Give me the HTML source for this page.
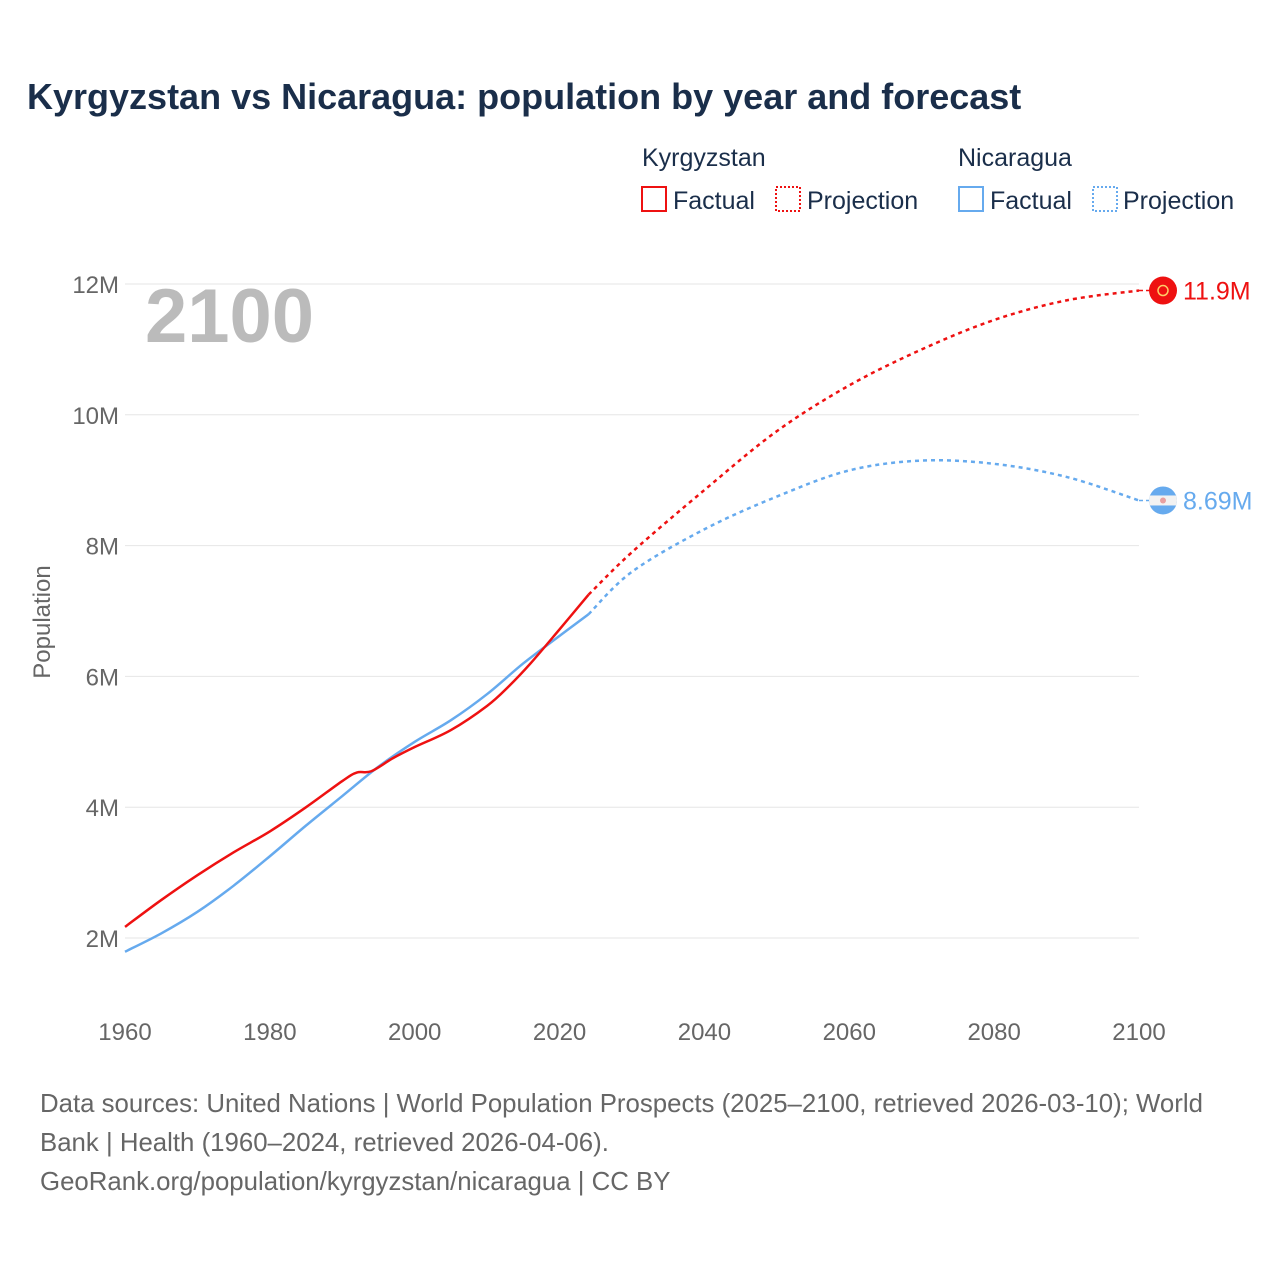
<!DOCTYPE html>
<html><head><meta charset="utf-8"><style>
body{margin:0;background:#fff;font-family:"Liberation Sans",sans-serif}
svg text{font-family:"Liberation Sans",sans-serif}
</style></head><body>
<svg id="chart" width="1280" height="1280" viewBox="0 0 1280 1280">
<text x="27" y="109" font-size="36" font-weight="bold" fill="#1a2e4a">Kyrgyzstan vs Nicaragua: population by year and forecast</text>
<g font-size="25" fill="#1a2e4a">
<text x="642" y="166">Kyrgyzstan</text>
<text x="958" y="166">Nicaragua</text>
<rect x="642" y="187" width="24" height="24" fill="none" stroke="#ee1111" stroke-width="2"/>
<text x="673" y="209">Factual</text>
<rect x="776" y="187" width="24" height="24" fill="none" stroke="#ee1111" stroke-width="2" stroke-dasharray="2,2"/>
<text x="807" y="209">Projection</text>
<rect x="959" y="187" width="24" height="24" fill="none" stroke="#66aaee" stroke-width="2"/>
<text x="990" y="209">Factual</text>
<rect x="1093" y="187" width="24" height="24" fill="none" stroke="#66aaee" stroke-width="2" stroke-dasharray="2,2"/>
<text x="1123" y="209">Projection</text>
</g>
<text x="145" y="342" font-size="76" font-weight="bold" fill="#bbbbbb">2100</text>
<g id="grid"></g><g id="lines"></g>
<text transform="translate(50,622) rotate(-90)" text-anchor="middle" font-size="24" fill="#666">Population</text>
<g font-size="25.8" fill="#666">
<text x="40" y="1112">Data sources: United Nations | World Population Prospects (2025–2100, retrieved 2026-03-10); World</text>
<text x="40" y="1151">Bank | Health (1960–2024, retrieved 2026-04-06).</text>
<text x="40" y="1190">GeoRank.org/population/kyrgyzstan/nicaragua | CC BY</text>
</g>
</svg>
<script>
const xTicks=[1960,1980,2000,2020,2040,2060,2080,2100];
const yTicks=[2,4,6,8,10,12];
const yTickLabels=["2M","4M","6M","8M","10M","12M"];
const kgFactYears=[1960,1965,1970,1975,1980,1985,1990,1992,1994,1997,2000,2005,2010,2013,2016,2020,2024];
const kgFactVals=[2.17,2.58,2.96,3.31,3.63,4.0,4.4,4.53,4.55,4.75,4.92,5.18,5.55,5.85,6.2,6.72,7.25];
const niFactYears=[1960,1965,1970,1975,1980,1985,1990,1995,2000,2005,2010,2015,2020,2024];
const niFactVals=[1.79,2.07,2.4,2.8,3.25,3.72,4.17,4.62,5.0,5.33,5.73,6.2,6.62,6.95];
const kgProjYears=[2024,2030,2040,2050,2060,2070,2080,2090,2100];
const kgProjVals=[7.25,7.9,8.85,9.75,10.45,11.0,11.45,11.75,11.9];
const niProjYears=[2024,2030,2040,2050,2060,2070,2080,2090,2100];
const niProjVals=[6.95,7.6,8.25,8.75,9.15,9.3,9.25,9.05,8.69];
const X=y=>125+(y-1960)*(1014/140);
const Y=v=>938-(v-2)*65.4;
const NS="http://www.w3.org/2000/svg";
const grid=document.getElementById('grid'),lines=document.getElementById('lines');
yTicks.forEach((t,i)=>{
 const l=document.createElementNS(NS,'line');
 l.setAttribute('x1',125);l.setAttribute('x2',1139);l.setAttribute('y1',Y(t));l.setAttribute('y2',Y(t));
 l.setAttribute('stroke','#e6e6e6');
 
 
 grid.appendChild(l);
 const tx=document.createElementNS(NS,'text');
 tx.setAttribute('x',119);tx.setAttribute('y',Y(t)+9);tx.setAttribute('text-anchor','end');
 tx.setAttribute('font-size','24');tx.setAttribute('fill','#666');tx.textContent=yTickLabels[i];
 
 
 grid.appendChild(tx);
});
xTicks.forEach(t=>{
 const tx=document.createElementNS(NS,'text');
 tx.setAttribute('x',X(t));tx.setAttribute('y',1040);tx.setAttribute('text-anchor','middle');
 tx.setAttribute('font-size','24');tx.setAttribute('fill','#666');tx.textContent=t;
 
 
 grid.appendChild(tx);
});
function path(ys,vs){
 const p=ys.map((y,i)=>[X(y),Y(vs[i])]);
 let d='M'+p[0][0]+','+p[0][1];
 for(let i=0;i<p.length-1;i++){
  const p0=p[i-1]||p[i],p1=p[i],p2=p[i+1],p3=p[i+2]||p2;
  d+=' C'+(p1[0]+(p2[0]-p0[0])/6)+','+(p1[1]+(p2[1]-p0[1])/6)+' '+(p2[0]-(p3[0]-p1[0])/6)+','+(p2[1]-(p3[1]-p1[1])/6)+' '+p2[0]+','+p2[1];
 }
 return d;
}
function draw(ys,vs,color,dash,name){
 const e=document.createElementNS(NS,'path');
 e.setAttribute('d',path(ys,vs));e.setAttribute('fill','none');e.setAttribute('stroke',color);
 e.setAttribute('stroke-width','2.5');if(dash)e.setAttribute('stroke-dasharray',dash);
 
 
 lines.appendChild(e);
}
draw(niFactYears,niFactVals,'#66aaee',null,'nicaragua-factual-line');
draw(kgFactYears,kgFactVals,'#ee1111',null,'kyrgyzstan-factual-line');
draw(niProjYears,niProjVals,'#66aaee','4,4','nicaragua-projection-line');
draw(kgProjYears,kgProjVals,'#ee1111','4,4','kyrgyzstan-projection-line');
function endMark(v,color,label,name,flag){
 const y=Y(v);
 const l=document.createElementNS(NS,'line');
 l.setAttribute('x1',X(2100));l.setAttribute('x2',1150);l.setAttribute('y1',y);l.setAttribute('y2',y);
 l.setAttribute('stroke',color);l.setAttribute('stroke-width','1.5');l.setAttribute('stroke-dasharray','4,3');
 
 
 lines.appendChild(l);
 const g=document.createElementNS(NS,'g');
 
 
 if(flag==='kg'){
  g.innerHTML='<circle cx="1163" cy="'+y+'" r="14" fill="#ee1111"/><circle cx="1163" cy="'+y+'" r="5" fill="none" stroke="#ffcc66" stroke-width="1.5"/>';
 }else{
  g.innerHTML='<clipPath id="nc"><circle cx="1163" cy="'+y+'" r="14"/></clipPath><g clip-path="url(#nc)"><rect x="1149" y="'+(y-14)+'" width="28" height="28" fill="#66aaee"/><rect x="1149" y="'+(y-5)+'" width="28" height="10" fill="#f2f2f2"/><circle cx="1163" cy="'+y+'" r="3" fill="#e8a0a0"/></g>';
 }
 lines.appendChild(g);
 const t=document.createElementNS(NS,'text');
 t.setAttribute('x',1183);t.setAttribute('y',y+9);t.setAttribute('font-size','25');t.setAttribute('fill',color);
 t.textContent=label;
 
 
 lines.appendChild(t);
}
endMark(kgProjVals[kgProjVals.length-1],'#ee1111','11.9M','kyrgyzstan','kg');
endMark(niProjVals[niProjVals.length-1],'#66aaee','8.69M','nicaragua','ni');
</script>
</body></html>
